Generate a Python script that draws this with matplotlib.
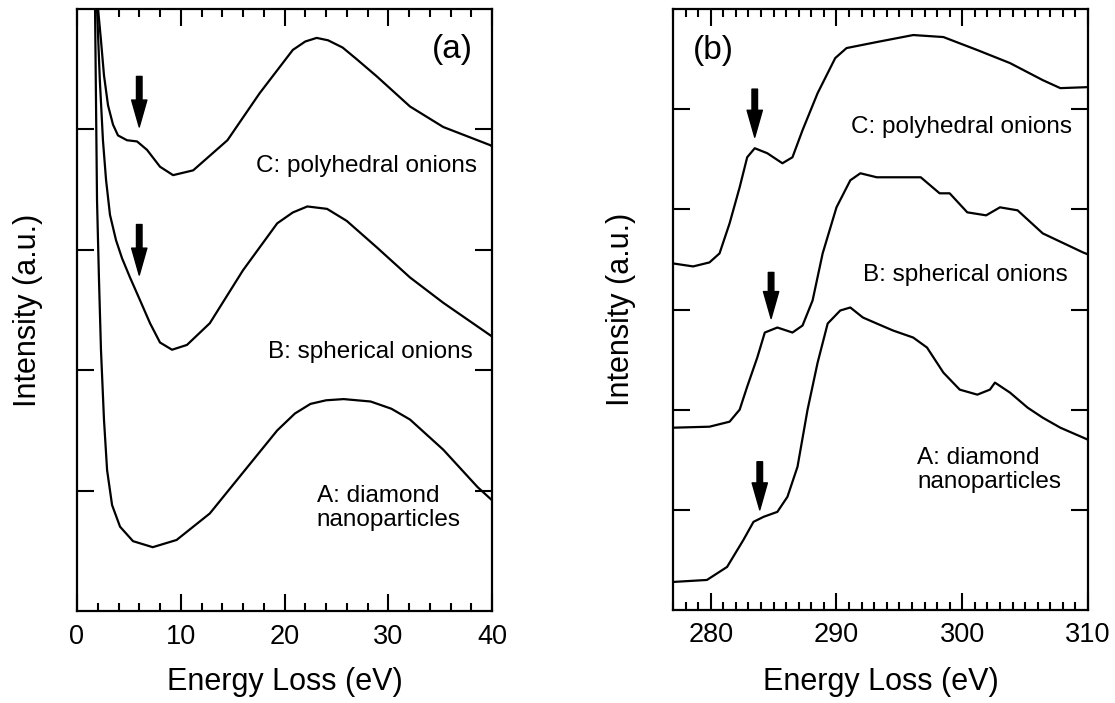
import matplotlib
matplotlib.use("Agg")
import matplotlib.pyplot as plt
from matplotlib.ticker import MultipleLocator

plt.rcParams['font.family'] = ['Liberation Sans', 'DejaVu Sans']

# ---------------- Panel (a): low-loss ----------------
a_A_x = [1.70, 1.74, 1.83, 1.93, 2.12, 2.31, 2.6, 2.9, 3.38, 4.15, 5.4, 7.3, 9.6, 12.8,
         16.0, 19.3, 21.0, 22.5, 24.0, 25.7, 28.3, 30.3, 32.1, 35.3, 38.6, 40.0]
a_A_y = [5.6, 5.0, 4.24, 3.41, 2.75, 2.17, 1.59, 1.17, 0.88, 0.70, 0.58, 0.53, 0.59, 0.81,
         1.15, 1.50, 1.64, 1.72, 1.75, 1.76, 1.74, 1.68, 1.59, 1.34, 1.03, 0.92]

a_B_x = [1.88, 1.93, 2.2, 2.5, 2.8, 3.18, 3.76, 4.34, 5.11, 6.08, 7.04, 8.0, 9.16, 10.6,
         12.8, 16.0, 19.3, 20.8, 22.2, 24.1, 26.0, 28.9, 32.1, 35.3, 40.0]
a_B_y = [5.6, 5.0, 4.41, 3.91, 3.58, 3.29, 3.08, 2.93, 2.77, 2.58, 2.39, 2.23, 2.17, 2.21,
         2.39, 2.83, 3.22, 3.31, 3.36, 3.34, 3.24, 3.02, 2.77, 2.56, 2.28]

a_C_x = [1.95, 2.03, 2.31, 2.6, 2.99, 3.47, 3.95, 4.82, 5.79, 6.75, 8.0, 9.26, 11.2, 14.5,
         17.6, 20.8, 22.0, 23.1, 24.2, 25.6, 27.0, 28.9, 32.1, 35.3, 39.8, 40.0]
a_C_y = [5.6, 5.0, 4.74, 4.45, 4.20, 4.04, 3.95, 3.91, 3.90, 3.83, 3.69, 3.62, 3.66, 3.91,
         4.30, 4.66, 4.73, 4.76, 4.74, 4.68, 4.58, 4.44, 4.19, 4.02, 3.87, 3.86]

# ---------------- Panel (b): carbon K edge ----------------
b_A_x = [277.0, 279.7, 281.3, 282.6, 283.4, 284.2, 285.3, 286.1, 286.9, 287.7, 288.5, 289.3,
         290.3, 291.1, 292.1, 293.2, 294.5, 296.1, 297.2, 298.5, 299.8, 301.2, 302.2, 302.6,
         303.8, 305.2, 306.4, 307.8, 310.0]
b_A_y = [0.28, 0.30, 0.43, 0.70, 0.88, 0.93, 0.98, 1.13, 1.43, 2.00, 2.47, 2.86,
         2.99, 3.02, 2.92, 2.86, 2.79, 2.72, 2.62, 2.37, 2.20, 2.15, 2.20, 2.27,
         2.17, 2.02, 1.92, 1.82, 1.70]

b_B_x = [277.0, 279.9, 281.5, 282.3, 282.9, 283.7, 284.3, 285.3, 286.5, 287.3, 288.1, 288.9,
         290.0, 291.1, 291.9, 293.2, 294.5, 296.7, 298.2, 299.0, 300.4, 301.9, 303.0, 304.4,
         306.4, 309.6, 310.0]
b_B_y = [1.82, 1.83, 1.88, 2.00, 2.23, 2.52, 2.77, 2.82, 2.77, 2.84, 3.09, 3.56,
         4.02, 4.29, 4.36, 4.32, 4.32, 4.32, 4.16, 4.16, 3.97, 3.94, 4.02, 3.99,
         3.76, 3.57, 3.55]

b_C_x = [277.0, 278.6, 279.9, 280.7, 281.5, 282.3, 282.9, 283.5, 284.5, 285.7, 286.5, 287.3,
         288.5, 289.3, 289.9, 290.8, 293.2, 296.1, 298.5, 301.2, 303.8, 306.4, 307.8, 310.0]
b_C_y = [3.46, 3.43, 3.47, 3.56, 3.86, 4.22, 4.52, 4.61, 4.56, 4.46, 4.52, 4.79,
         5.16, 5.36, 5.51, 5.61, 5.67, 5.74, 5.72, 5.59, 5.46, 5.29, 5.21, 5.22]

a_labels = ["C: polyhedral onions", "B: spherical onions", "A: diamond\nnanoparticles"]
b_labels = ["C: polyhedral onions", "B: spherical onions", "A: diamond\nnanoparticles"]

# arrows: (x, y_tail, y_tip)
a_arrows = [(6.0, 4.44, 4.02), (6.0, 3.21, 2.79)]
b_arrows = [(283.5, 5.20, 4.72), (284.8, 3.37, 2.91), (283.9, 1.48, 1.00)]

fig = plt.figure(figsize=(11.15, 7.03), dpi=100)
ax1 = fig.add_axes([77/1115, 1-611/703, 415/1115, 602/703])
ax2 = fig.add_axes([673/1115, 1-610/703, 415/1115, 601/703])

lw = 1.6
for x, y in [(a_A_x, a_A_y), (a_B_x, a_B_y), (a_C_x, a_C_y)]:
    ax1.plot(x, y, color='black', lw=lw)
for x, y in [(b_A_x, b_A_y), (b_B_x, b_B_y), (b_C_x, b_C_y)]:
    ax2.plot(x, y, color='black', lw=lw)

ax1.set_xlim(0, 40)
ax1.set_ylim(0, 5)
ax2.set_xlim(277, 310)
ax2.set_ylim(0, 6)

ax1.xaxis.set_major_locator(MultipleLocator(10))
ax1.xaxis.set_minor_locator(MultipleLocator(2))
ax1.set_yticks([1, 2, 3, 4])
ax2.xaxis.set_major_locator(MultipleLocator(10))
ax2.xaxis.set_minor_locator(MultipleLocator(1))
ax2.set_yticks([1, 2, 3, 4, 5])

for ax in (ax1, ax2):
    ax.yaxis.set_minor_locator(plt.NullLocator())
    ax.tick_params(axis='both', which='major', direction='in', top=True, right=True,
                   length=12.5, width=1.5, labelsize=19.5, pad=9)
    ax.tick_params(axis='x', which='minor', direction='in', top=True,
                   length=6, width=1.5)
    ax.set_yticklabels([])
    for s in ax.spines.values():
        s.set_linewidth(1.6)
    ax.set_xlabel("Energy Loss (eV)", fontsize=22, va='center')
    ax.set_ylabel("Intensity (a.u.)", fontsize=22, va='center', ha='center')

ax1.xaxis.set_label_coords(0.5, -0.118)
ax2.xaxis.set_label_coords(0.5, -0.12)
ax1.yaxis.set_label_coords(-0.118, 0.5)
ax2.yaxis.set_label_coords(-0.126, 0.5)

fs = 17.5
ax1.text(36.2, 4.66, "(a)", fontsize=24, ha='center', va='center')
ax1.text(38.6, 3.70, a_labels[0], fontsize=fs, ha='right', va='center')
ax1.text(38.1, 2.15, a_labels[1], fontsize=fs, ha='right', va='center')
ax1.text(23.1, 0.855, a_labels[2], fontsize=fs, ha='left', va='center', linespacing=1.1)

ax2.text(280.2, 5.59, "(b)", fontsize=24, ha='center', va='center')
ax2.text(308.7, 4.82, b_labels[0], fontsize=fs, ha='right', va='center')
ax2.text(308.4, 3.34, b_labels[1], fontsize=fs, ha='right', va='center')
ax2.text(296.4, 1.40, b_labels[2], fontsize=fs, ha='left', va='center', linespacing=1.1)

astyle = dict(arrowstyle='simple,head_length=0.97,head_width=0.55,tail_width=0.2',
              fc='black', ec='black', shrinkA=0, shrinkB=0)
for ax, arrows in ((ax1, a_arrows), (ax2, b_arrows)):
    for x, yt, yh in arrows:
        ax.annotate("", xy=(x, yh), xytext=(x, yt), arrowprops=dict(astyle, mutation_scale=20))

fig.savefig("out.png", dpi=100)
